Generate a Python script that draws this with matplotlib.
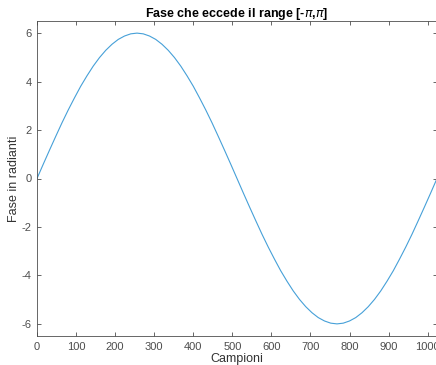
import matplotlib
matplotlib.use("Agg")
import matplotlib.pyplot as plt

# Dati: fase (radianti) ogni 16 campioni
campioni = list(range(0, 1025, 16))
fase = [0.00, 0.59, 1.17, 1.74, 2.30, 2.83, 3.33, 3.81, 4.24, 4.64, 4.99, 5.29, 5.54, 5.74, 5.88, 5.97, 6.00,
        5.97, 5.88, 5.74, 5.54, 5.29, 4.99, 4.64, 4.24, 3.81, 3.33, 2.83, 2.30, 1.74, 1.17, 0.59, 0.00,
        -0.59, -1.17, -1.74, -2.30, -2.83, -3.33, -3.81, -4.24, -4.64, -4.99, -5.29, -5.54, -5.74, -5.88, -5.97, -6.00,
        -5.97, -5.88, -5.74, -5.54, -5.29, -4.99, -4.64, -4.24, -3.81, -3.33, -2.83, -2.30, -1.74, -1.17, -0.59, 0.00]

xticks = [0, 100, 200, 300, 400, 500, 600, 700, 800, 900, 1000]
yticks = [-6, -4, -2, 0, 2, 4, 6]

plt.rcParams['font.family'] = ['Liberation Sans', 'DejaVu Sans']
plt.rcParams['mathtext.fontset'] = 'dejavusans'
plt.rcParams['axes.unicode_minus'] = False

grigio = '#4d4d4d'

fig = plt.figure(figsize=(4.36, 3.65), dpi=100)
ax = fig.add_axes([37/436, 29/365, 400/436, 315/365])

ax.plot(campioni, fase, color='#46a0d8', linewidth=0.8)

ax.set_xlim(0, 1024)
ax.set_ylim(-6.5, 6.5)
ax.set_xticks(xticks)
ax.set_yticks(yticks)

ax.tick_params(direction='in', length=3, width=0.6, colors=grigio,
               labelsize=8, top=True, right=True, pad=4)
for s in ax.spines.values():
    s.set_color(grigio)
    s.set_linewidth(0.6)

ax.set_xlabel("Campioni", fontsize=9, color='#333333', labelpad=1)
ax.set_ylabel("Fase in radianti", fontsize=9, color='#333333', labelpad=1)
ax.set_title(r"Fase che eccede il range [-$\pi$,$\pi$]", fontsize=9,
             fontweight='bold', pad=3)

fig.savefig("out.png", dpi=100)
